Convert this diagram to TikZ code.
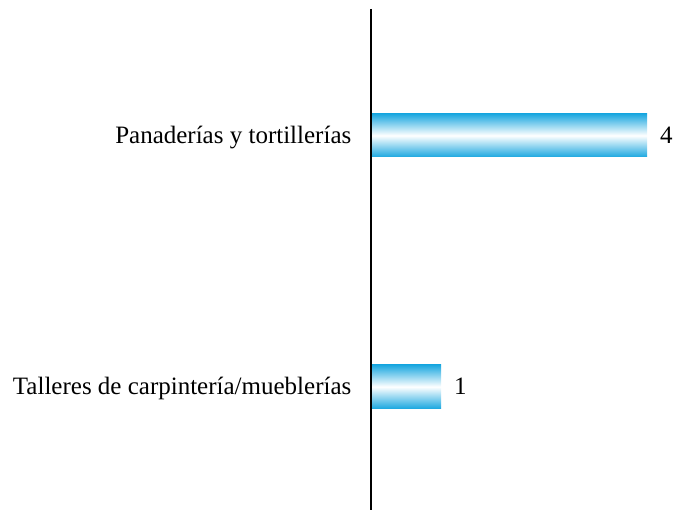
\documentclass[tikz,border=0pt]{standalone}
\usepackage{fontspec}
\setmainfont{Liberation Serif}
\definecolor{barblue}{RGB}{28,168,224}
\tikzset{
  bar/.style={top color=barblue, bottom color=barblue, middle color=white, draw=none},
  cat/.style={anchor=base east, font=\fontsize{25}{30}\selectfont, inner sep=0pt},
  val/.style={anchor=base west, font=\fontsize{25}{30}\selectfont, inner sep=0pt},
}
\begin{document}
\begin{tikzpicture}[x=1pt,y=-1pt]
\useasboundingbox (0,0) rectangle (675,510);
\shade[bar] (371,114) rectangle (647,157);
\shade[bar] (371,365) rectangle (441,408.5);
\coordinate (top) at (371,9);
\coordinate (bot) at (371,510);
\draw[line width=2pt] (top) -- (bot);
\node[cat] (c1) at (351.5,144) {Panaderías y tortillerías};
\node[cat] (c2) at (351.5,395) {Talleres de carpintería/mueblerías};
\node[val] (v1) at (660,144) {4};
\node[val] (v2) at (454,395) {1};
\end{tikzpicture}
\end{document}
